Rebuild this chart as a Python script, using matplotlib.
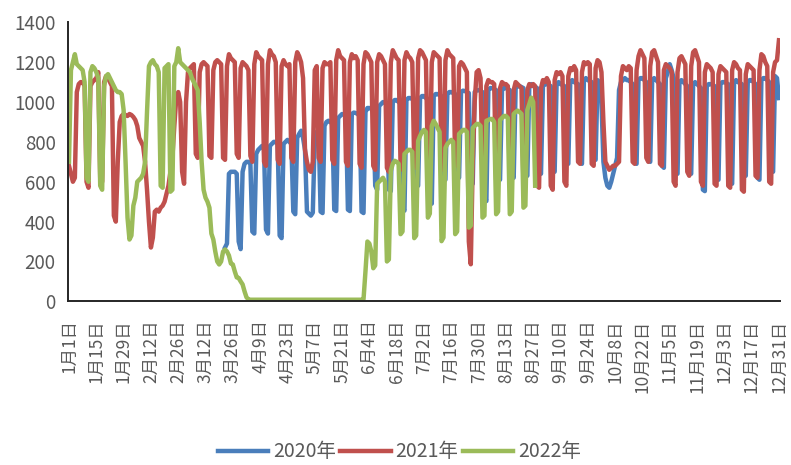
import numpy as np
import matplotlib
matplotlib.use('Agg')
import matplotlib.pyplot as plt

plt.rcParams['font.family'] = ['Noto Sans CJK SC', 'DejaVu Sans']

# x categories: one point per day, tick every 14 days
tick_labels = ['1月1日', '1月15日', '1月29日', '2月12日', '2月26日', '3月12日', '3月26日',
               '4月9日', '4月23日', '5月7日', '5月21日', '6月4日', '6月18日', '7月2日',
               '7月16日', '7月30日', '8月13日', '8月27日', '9月10日', '9月24日', '10月8日',
               '10月22日', '11月5日', '11月19日', '12月3日', '12月17日', '12月31日']

# 2020 (no data before late March)
blue_2020 = [None] * 77 + [
    None, None, None, 270, 290, 640, 650,
    650, 650, 640, 300, 262, 650, 690,
    700, 700, 690, 350, 340, 740, 760,
    770, 780, 760, 360, 340, 780, 790,
    800, 800, 790, 330, 317, 790, 800,
    810, 800, 790, 450, 437, 820, 840,
    856, 820, 760, 450, 440, 430, 445,
    820, 850, 856, 450, 443, 880, 900,
    906, 900, 890, 460, 453, 920, 930,
    940, 935, 930, 460, 453, 940, 947,
    945, 940, 930, 450, 443, 950, 970,
    970, 965, 960, 580, 560, 980, 990,
    1000, 995, 990, 560, 553, 1000, 1010,
    1010, 1000, 1000, 470, 455, 1010, 1020,
    1020, 1015, 1010, 600, 580, 1020, 1030,
    1030, 1020, 1015, 500, 490, 1030, 1040,
    1040, 1035, 1030, 620, 610, 1040, 1050,
    1050, 1045, 1040, 630, 620, 1050, 1057,
    1055, 1050, 1045, 600, 590, 1050, 1060,
    1060, 1055, 1050, 520, 503, 1060, 1070,
    1070, 1065, 1060, 620, 610, 1060, 1070,
    1070, 1065, 1060, 630, 620, 1070, 1080,
    1080, 1075, 1070, 640, 630, 1080, 1090,
    1080, 1075, 1070, 650, 640, 1080, 1090,
    1090, 1085, 1080, 660, 650, 1090, 1100,
    1090, 1085, 1080, 700, 690, 1100, 1110,
    1100, 1095, 1090, 700, 690, 1110, 1120,
    1110, 1105, 1100, 720, 710, 1110, 1100,
    1000, 700, 620, 580, 570, 600, 640,
    680, 720, 1060, 1100, 1110, 1120, 1110,
    1110, 1100, 1090, 700, 690, 1110, 1120,
    1120, 1110, 1100, 720, 700, 1110, 1120,
    1110, 1100, 1090, 680, 670, 1120, 1150,
    1190, 1160, 1120, 650, 640, 1100, 1110,
    1100, 1090, 1080, 650, 640, 1090, 1100,
    1090, 1080, 1070, 560, 553, 1080, 1090,
    1090, 1085, 1080, 620, 610, 1090, 1100,
    1100, 1095, 1090, 600, 590, 1100, 1110,
    1100, 1095, 1090, 640, 630, 1100, 1110,
    1110, 1100, 1090, 620, 610, 1110, 1120,
    1120, 1110, 1100, 660, 650, 1130, 1120,
    1020]

# 2021
red_2021 = [
    680, 640, 600, 620, 1050, 1090, 1100,
    1100, 1080, 600, 570, 1080, 1100, 1110,
    1120, 1150, 620, 600, 1100, 1130, 1120,
    1100, 1080, 430, 400, 700, 900, 930,
    940, 935, 930, 940, 935, 925, 910,
    880, 820, 800, 780, 700, 560, 400,
    270, 320, 450, 460, 450, 470, 480,
    500, 540, 580, 650, 720, 880, 1020,
    1050, 1000, 650, 590, 1000, 1150, 1170,
    1180, 1190, 740, 720, 1150, 1190, 1200,
    1190, 1180, 730, 720, 1160, 1200, 1210,
    1200, 1190, 720, 710, 1180, 1240, 1220,
    1210, 1200, 740, 720, 1170, 1200, 1190,
    1180, 1160, 730, 700, 1190, 1250, 1230,
    1220, 1210, 700, 680, 1190, 1260, 1240,
    1230, 1200, 710, 690, 1180, 1210, 1190,
    1180, 1190, 720, 700, 1200, 1250, 1230,
    1200, 1120, 760, 700, 660, 650, 700,
    1160, 1180, 720, 700, 1170, 1200, 1190,
    1190, 1200, 710, 690, 1210, 1260, 1230,
    1220, 1210, 700, 680, 1200, 1240, 1220,
    1230, 1210, 690, 670, 1190, 1250, 1240,
    1220, 1200, 680, 660, 1200, 1240, 1230,
    1210, 1190, 670, 650, 1200, 1260, 1240,
    1220, 1210, 680, 660, 1210, 1250, 1230,
    1220, 1200, 690, 670, 1220, 1260, 1250,
    1230, 1210, 680, 660, 1200, 1250, 1240,
    1230, 1220, 690, 660, 1210, 1260, 1240,
    1230, 1220, 700, 680, 1180, 1200, 1190,
    1170, 1150, 300, 186, 700, 1000, 1150,
    1160, 1120, 640, 620, 1080, 1110, 1100,
    1100, 1090, 610, 600, 1070, 1100, 1090,
    1090, 1080, 600, 590, 1060, 1100, 1090,
    1080, 1070, 590, 580, 1060, 1090, 1080,
    1090, 1080, 580, 570, 1070, 1110, 1100,
    1120, 1100, 580, 560, 1110, 1150, 1140,
    1150, 1130, 600, 580, 1130, 1170, 1160,
    1180, 1160, 700, 690, 1150, 1200, 1190,
    1200, 1190, 690, 680, 1170, 1210, 1200,
    1150, 900, 700, 680, 660, 670, 680,
    680, 690, 700, 1130, 1180, 1170, 1160,
    1180, 1170, 700, 690, 1160, 1230, 1260,
    1240, 1220, 720, 700, 1180, 1250, 1260,
    1230, 1200, 690, 680, 1160, 1190, 1180,
    1170, 1150, 600, 580, 1150, 1220, 1230,
    1210, 1190, 650, 630, 1180, 1250, 1260,
    1230, 1200, 600, 580, 1150, 1190, 1180,
    1170, 1150, 590, 580, 1140, 1180, 1170,
    1160, 1150, 580, 570, 1160, 1200, 1190,
    1170, 1160, 560, 550, 1140, 1190, 1180,
    1170, 1160, 630, 620, 1160, 1240, 1230,
    1200, 1180, 600, 590, 1150, 1200, 1210,
    1310]

# 2022 (data stops end of August)
green_2022 = [
    700, 1160, 1200, 1240, 1190, 1180, 1170,
    1160, 1100, 620, 600, 1150, 1180, 1170,
    1150, 1120, 580, 560, 1080, 1130, 1140,
    1120, 1100, 1080, 1060, 1050, 1050, 1040,
    960, 700, 420, 310, 330, 480, 520,
    600, 610, 620, 640, 700, 950, 1180,
    1200, 1210, 1190, 1180, 1150, 580, 570,
    1170, 1180, 1190, 550, 560, 1180, 1200,
    1270, 1200, 1190, 1180, 1170, 1160, 1150,
    1120, 1100, 1080, 1060, 900, 700, 560,
    520, 500, 470, 340, 310, 250, 200,
    185, 200, 250, 260, 250, 230, 190,
    185, 150, 120, 117, 100, 85, 50,
    20, 10, 8, 8, 8, 8, 8,
    8, 8, 8, 8, 8, 8, 8,
    8, 8, 8, 8, 8, 8, 8,
    8, 8, 8, 8, 8, 8, 8,
    8, 8, 8, 8, 8, 8, 8,
    8, 8, 8, 8, 8, 8, 8,
    8, 8, 8, 8, 8, 8, 8,
    8, 8, 8, 8, 8, 8, 8,
    8, 8, 8, 8, 10, 150, 300,
    290, 250, 166, 180, 590, 600, 610,
    620, 600, 200, 210, 655, 690, 705,
    700, 690, 337, 350, 740, 750, 760,
    760, 750, 317, 330, 805, 830, 850,
    860, 850, 420, 440, 880, 906, 890,
    870, 850, 302, 320, 770, 790, 800,
    810, 800, 337, 350, 840, 850, 860,
    860, 850, 370, 380, 870, 880, 890,
    890, 880, 420, 430, 906, 910, 915,
    915, 900, 437, 450, 910, 920, 930,
    930, 920, 437, 450, 940, 950, 957,
    950, 940, 470, 480, 960, 990, 1022,
    1000, 580]
green_2022 = green_2022 + [None] * (365 - len(green_2022))

days = np.arange(365)
series = [('2020年', blue_2020, '#4a7ebb'),
          ('2021年', red_2021, '#c0504d'),
          ('2022年', green_2022, '#9bbb59')]

fig = plt.figure(figsize=(7.91, 4.65), dpi=100)
ax = fig.add_axes([0.086, 0.352, 0.900, 0.600])

for name, vals, col in series:
    ax.plot(days, np.array(vals, dtype=float), color=col, lw=3.2, label=name,
            solid_joinstyle='round')

ax.set_xlim(-0.5, 364.5)
ax.set_ylim(0, 1400)
ax.set_yticks(range(0, 1401, 200))
ax.set_xticks(np.arange(0, 365, 14))
ax.set_xticklabels(tick_labels, rotation=90)

for s in ['top', 'right']:
    ax.spines[s].set_visible(False)
for s in ['left', 'bottom']:
    ax.spines[s].set_color('#262626')
    ax.spines[s].set_linewidth(1.4)

ax.tick_params(axis='y', length=0, pad=9, labelsize=13.5, labelcolor='#595959')
ax.tick_params(axis='x', length=0, pad=13, labelsize=12.5, labelcolor='#595959')

fig.legend(loc='center', bbox_to_anchor=(0.505, 0.028), ncol=3, frameon=False,
           fontsize=14, handlelength=2.6, handletextpad=0.25, columnspacing=0.2,
           labelcolor='#595959')
for line in fig.legends[0].get_lines():
    line.set_linewidth(3.2)

fig.savefig('out.png', dpi=100)
